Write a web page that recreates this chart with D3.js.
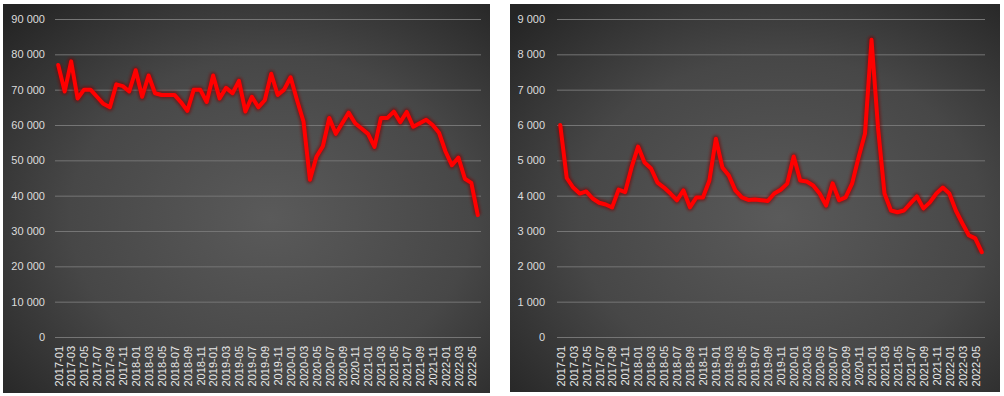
<!DOCTYPE html>
<html>
<head>
<meta charset="utf-8">
<script src="https://cdn.jsdelivr.net/npm/d3@7"></script>
<style>
  body { margin: 0; background: #fff; }
  svg text { font-family: "Liberation Sans", Arial, sans-serif; }
</style>
</head>
<body>
<div id="chart"></div>
<script>
var months = ["2017-01","2017-02","2017-03","2017-04","2017-05","2017-06","2017-07","2017-08","2017-09","2017-10","2017-11","2017-12",
  "2018-01","2018-02","2018-03","2018-04","2018-05","2018-06","2018-07","2018-08","2018-09","2018-10","2018-11","2018-12",
  "2019-01","2019-02","2019-03","2019-04","2019-05","2019-06","2019-07","2019-08","2019-09","2019-10","2019-11","2019-12",
  "2020-01","2020-02","2020-03","2020-04","2020-05","2020-06","2020-07","2020-08","2020-09","2020-10","2020-11","2020-12",
  "2021-01","2021-02","2021-03","2021-04","2021-05","2021-06","2021-07","2021-08","2021-09","2021-10","2021-11","2021-12",
  "2022-01","2022-02","2022-03","2022-04","2022-05","2022-06"];

var leftValues = [77000, 69500, 78000, 67500, 70000, 70000, 68000, 66000, 65000, 71500,
  71000, 69500, 75500, 68000, 74000, 69000, 68500, 68500, 68500, 66500,
  64000, 70000, 70000, 66500, 74000, 67500, 70500, 69000, 72500, 63800,
  68000, 65000, 67000, 74500, 68500, 70000, 73500, 67000, 61000, 44500,
  51000, 54000, 62000, 57500, 60500, 63500, 60500, 59000, 57500, 53800,
  62000, 62000, 63800, 60800, 63700, 59500, 60500, 61500, 60000, 57800,
  52500, 48600, 50800, 44800, 43600, 34500];

var rightValues = [6000, 4500, 4230, 4060, 4120, 3920, 3800, 3750, 3670, 4170,
  4100, 4800, 5390, 4940, 4770, 4370, 4230, 4060, 3870, 4150,
  3670, 3950, 3950, 4430, 5610, 4800, 4570, 4150, 3950, 3880,
  3890, 3870, 3850, 4060, 4170, 4340, 5110, 4430, 4400, 4290,
  4060, 3720, 4350, 3870, 3950, 4340, 5080, 5760, 8410, 5930,
  4060, 3580, 3530, 3580, 3780, 3980, 3640, 3810, 4060, 4230,
  4060, 3580, 3220, 2880, 2790, 2400];

var leftTicks = [0, 10000, 20000, 30000, 40000, 50000, 60000, 70000, 80000, 90000];
var rightTicks = [0, 1000, 2000, 3000, 4000, 5000, 6000, 7000, 8000, 9000];

var W = 1004, H = 396;
var svg = d3.select("#chart").append("svg")
    .attr("width", W)
    .attr("height", H);

var defs = svg.append("defs");
var grad = defs.append("radialGradient")
    .attr("id", "bg")
    .attr("cx", "55%").attr("cy", "55%").attr("r", "75%");
grad.append("stop").attr("offset", "0%").attr("stop-color", "#5a5a5a");
grad.append("stop").attr("offset", "55%").attr("stop-color", "#474747");
grad.append("stop").attr("offset", "100%").attr("stop-color", "#242424");

var glow = defs.append("filter").attr("id", "glow")
    .attr("x", "-10%").attr("y", "-10%").attr("width", "120%").attr("height", "120%");
glow.append("feGaussianBlur").attr("stdDeviation", 1.5);

var fmt = function(d) { return d3.format(",")(d).replace(/,/g, " "); };

function panel(cfg) {
  var g = svg.append("g");
  g.append("rect")
      .attr("x", cfg.box[0]).attr("y", cfg.box[1])
      .attr("width", cfg.box[2]).attr("height", cfg.box[3])
      .attr("fill", "url(#bg)");

  var x = d3.scalePoint().domain(months).range(cfg.xr).padding(0.5);
  var y = d3.scaleLinear().domain([0, 90000 * cfg.k]).range([337, 19]);

  // gridlines
  g.append("g")
      .attr("transform", "translate(" + cfg.xr[0] + ",0)")
      .call(d3.axisLeft(y).tickValues(cfg.ticks).tickSize(-(cfg.xr[1] - cfg.xr[0])).tickFormat(""))
      .call(function(a) {
        a.select(".domain").remove();
        a.selectAll("line").attr("stroke", "#757575").attr("stroke-width", 1);
      });

  // y labels
  g.append("g")
      .attr("transform", "translate(" + cfg.labelX + ",0)")
      .call(d3.axisLeft(y).tickValues(cfg.ticks).tickSize(0).tickPadding(0).tickFormat(fmt))
      .call(function(a) {
        a.select(".domain").remove();
        a.selectAll("text").attr("fill", "#dcdcdc").style("font-size", "11px");
      });

  // x labels
  g.append("g")
      .attr("transform", "translate(0,341)")
      .call(d3.axisBottom(x).tickValues(months.filter(function(d, i) { return i % 2 === 0; })).tickSize(0).tickPadding(0))
      .call(function(a) {
        a.select(".domain").remove();
        a.selectAll("text")
            .attr("fill", "#e8e8e8")
            .style("font-size", "11px")
            .attr("text-anchor", "end")
            .attr("transform", "rotate(-90)")
            .attr("x", -5)
            .attr("y", 0)
            .attr("dy", "0.35em");
      });

  var line = d3.line()
      .x(function(d, i) { return x(months[i]); })
      .y(function(d) { return y(d); })
      .curve(d3.curveLinear);

  g.append("path")
      .datum(cfg.values)
      .attr("d", line)
      .attr("fill", "none")
      .attr("stroke", "#7a0000")
      .attr("stroke-width", 7)
      .attr("stroke-opacity", 0.6)
      .attr("stroke-linejoin", "round")
      .attr("filter", "url(#glow)");

  g.append("path")
      .datum(cfg.values)
      .attr("d", line)
      .attr("fill", "none")
      .attr("stroke", "#ff0000")
      .attr("stroke-width", 4)
      .attr("stroke-linejoin", "round")
      .attr("stroke-linecap", "round");
}

panel({ box: [3, 4, 487, 389], xr: [55, 481], labelX: 45, ticks: leftTicks, values: leftValues, k: 1 });
panel({ box: [510, 4, 490, 388], xr: [557, 985], labelX: 545, ticks: rightTicks, values: rightValues, k: 0.1 });
</script>
</body>
</html>
